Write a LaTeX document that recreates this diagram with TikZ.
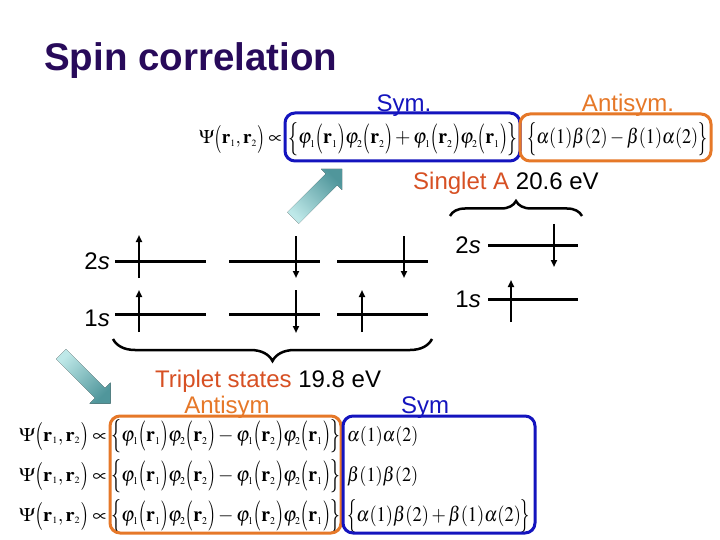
\documentclass[tikz,border=0pt]{standalone}
\usepackage{mathptmx}
\usepackage{graphicx}
\usepackage[no-math]{fontspec}
\setmainfont{Liberation Sans}
\usetikzlibrary{decorations.pathreplacing,arrows.meta}
\DeclareMathSizes{20}{20}{10}{8}
\definecolor{titlec}{RGB}{40,10,90}
\definecolor{symblue}{RGB}{20,20,190}
\definecolor{antiorange}{RGB}{230,120,40}
\definecolor{statered}{RGB}{215,80,35}
\definecolor{arrowlight}{RGB}{190,232,232}
\definecolor{arrowdark}{RGB}{80,150,155}
\newcommand{\LP}{\mathopen{\raisebox{-0.11em}{\scalebox{1}[1.45]{$($}}}}
\newcommand{\RP}{\mathclose{\raisebox{-0.11em}{\scalebox{1}[1.45]{$)$}}}}
\newcommand{\LB}{\mathopen{\raisebox{-0.15em}{\scalebox{1}[1.6]{$\{$}}}}
\newcommand{\RB}{\mathclose{\raisebox{-0.15em}{\scalebox{1}[1.6]{$\}$}}}}
\newcommand{\psipart}{$\Psi\LP\mathbf{r}_1,\mathbf{r}_2\RP\propto$}
\newcommand{\sympart}{$\LB\varphi_1\LP\mathbf{r}_1\RP\varphi_2\LP\mathbf{r}_2\RP+\varphi_1\LP\mathbf{r}_2\RP\varphi_2\LP\mathbf{r}_1\RP\RB$}
\newcommand{\antipart}{$\LB\varphi_1\LP\mathbf{r}_1\RP\varphi_2\LP\mathbf{r}_2\RP-\varphi_1\LP\mathbf{r}_2\RP\varphi_2\LP\mathbf{r}_1\RP\RB$}
\begin{document}
\begin{tikzpicture}[x=1pt,y=-1pt,
  lbl/.style={font=\fontsize{24}{28}\selectfont, inner sep=0pt},
  eq/.style={font=\fontsize{20}{24}\selectfont, inner sep=0pt, anchor=base west},
  level/.style={line width=3pt},
  spin/.style={line width=2pt,-{Triangle[length=7pt,width=6pt]}},
  symbox/.style={draw=symblue,line width=3pt,rounded corners=10pt},
  antibox/.style={draw=antiorange,line width=3pt,rounded corners=10pt},
  brc/.style={decorate,decoration={brace,amplitude=#1},line width=2.5pt}]
\useasboundingbox (0,0) rectangle (720,540);
\fill[white] (0,0) rectangle (720,540);

% title
\node[anchor=west, font=\fontsize{38.5}{44}\selectfont\bfseries, text=titlec, inner sep=0pt] (title) at (44,61) {Spin correlation};

% top equation
\node[eq] (psiA) at (199,144) {\resizebox*{83pt}{28pt}{\psipart}};
\node[eq] (symA) at (288,144) {\resizebox*{229pt}{33pt}{\sympart}};
\node[eq] (antiA) at (527,144) {\resizebox*{180pt}{33pt}{$\LB\alpha(1)\beta(2)-\beta(1)\alpha(2)\RB$}};
\draw[symbox] (285,113) rectangle (520,161);
\draw[antibox] (520,114) rectangle (711,161);
\node[lbl,text=symblue,anchor=base] (symlabA) at (404,112) {Sym.};
\node[lbl,text=antiorange,anchor=base] (antilabA) at (628,112) {Antisym.};

% block arrows
\fill[top color=arrowdark,bottom color=arrowlight,shading angle=-45]
  (287.3,212.3) -- (325.8,173.8) -- (321,169) -- (342,169) -- (342,190) -- (337.2,185.2) -- (298.7,223.7) -- cycle;
\fill[top color=arrowlight,bottom color=arrowdark,shading angle=45]
  (65.95,349.05) -- (104.95,388.05) -- (110.5,382.5) -- (110.5,403.5) -- (89.5,403.5) -- (95.05,397.95) -- (56.05,358.95) -- cycle;

% singlet
\node[lbl,anchor=base west] (singlet) at (413,190) {\textcolor{statered}{Singlet A} 20.6 eV};
\draw[brc=15pt] (450,216) -- (582,216);
\node[lbl,anchor=base east] (s2R) at (481,253) {2\textit{s}};
\node[lbl,anchor=base east] (s1R) at (481,307) {1\textit{s}};
\draw[level] (488,245) -- (578,245);
\draw[level] (488,299) -- (578,299);
\draw[spin] (554,224) -- (554,267);
\draw[spin] (511,322) -- (511,280);

% triplet levels
\node[lbl,anchor=base east] (s2L) at (110,269) {2\textit{s}};
\node[lbl,anchor=base east] (s1L) at (110,326) {1\textit{s}};
\foreach \y in {261,314}{
  \draw[level] (115,\y) -- (206,\y);
  \draw[level] (229,\y) -- (320,\y);
  \draw[level] (337,\y) -- (428,\y);
}
\draw[spin] (139,278) -- (139,235);
\draw[spin] (296,236) -- (296,278);
\draw[spin] (404,236) -- (404,278);
\draw[spin] (139,332) -- (139,290);
\draw[spin] (296,290) -- (296,333);
\draw[spin] (362,332) -- (362,290);
\draw[brc=22pt] (432,339) -- (113,339);

\node[lbl,anchor=base west] (triplet) at (155,387) {\textcolor{statered}{Triplet states} 19.8 eV};
\node[lbl,text=antiorange,anchor=base] (antilabB) at (227,413) {Antisym};
\node[lbl,text=symblue,anchor=base] (symlabB) at (425,413) {Sym};

% bottom equations
\node[eq] (spinB1) at (347,441) {\resizebox*{71pt}{20pt}{$\alpha(1)\alpha(2)$}};
\node[eq] (spinB2) at (347,481) {\resizebox*{71pt}{20pt}{$\beta(1)\beta(2)$}};
\node[eq] (spinB3) at (347,521) {\resizebox*{183pt}{33pt}{$\LB\alpha(1)\beta(2)+\beta(1)\alpha(2)\RB$}};
\foreach \y [count=\i] in {441,481,521}{
  \node[eq] (psiB\i) at (19,\y) {\resizebox*{88pt}{28pt}{\psipart}};
  \node[eq] (spaceB\i) at (111,\y) {\resizebox*{229pt}{33pt}{\antipart}};
}
\draw[antibox] (110,416) rectangle (341,533);
\draw[symbox] (343,416) rectangle (535,533);
\end{tikzpicture}
\end{document}
